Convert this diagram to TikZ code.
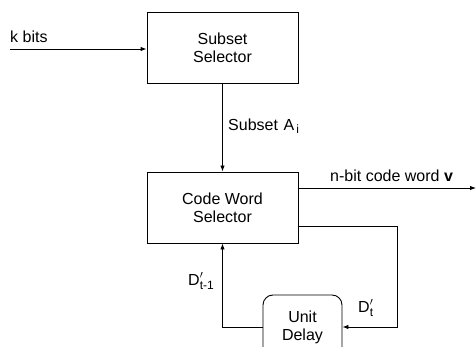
\documentclass[tikz,border=0pt]{standalone}
\usepackage{fontspec}
\setmainfont{Liberation Sans}
\usetikzlibrary{arrows.meta}
\newcommand{\dprime}[1]{D\ensuremath{{}^{\prime}_{\mbox{\fontsize{12}{12}\selectfont #1}}}}
\begin{document}
\begin{tikzpicture}[x=1pt,y=-1pt,
  txt/.style={font=\fontsize{16}{18}\selectfont},
  blk/.style={txt, draw, line width=0.9pt, minimum width=151pt, minimum height=71pt, align=center, inner sep=0pt},
  dly/.style={txt, draw, line width=0.9pt, rounded corners=10pt, minimum width=79pt, minimum height=64pt, align=center, inner sep=0pt},
  wire/.style={line width=0.9pt},
  arr/.style={wire, -{Latex[length=6pt,width=4.5pt]}},
  lbl/.style={txt, anchor=base west, inner sep=0pt}]
\useasboundingbox (0,0) rectangle (476,347);
\node[blk] (ss) at (222.5,47.5) {Subset\\Selector};
\node[blk] (cw) at (222.5,207.5) {Code Word\\Selector};
\node[dly] (ud) at (302.5,327) {Unit\\Delay};
\coordinate (kin) at (10,49);
\coordinate (vout) at (476,188);
\coordinate (fb) at (397,226);
\draw[arr] (kin) -- (kin -| ss.west);
\draw[arr] (ss.south) -- (cw.north);
\draw[arr] (cw.east |- vout) -- (vout);
\draw[arr] (cw.east |- fb) -- (fb) |- (ud.east);
\draw[arr] (ud.west) -| (cw.south);
\node[lbl] (lk) at (10,43) {k bits};
\node[lbl] (la) at (228,131) {Subset\hspace{0.35em}A\raisebox{-0.35ex}{\fontsize{12}{12}\selectfont\,i}};
\node[lbl] (lv) at (330,182) {n-bit code word \textbf{v}};
\node[lbl] (ld1) at (188,285) {\dprime{t-1}};
\node[lbl] (ld2) at (358,312) {\dprime{t}};
\end{tikzpicture}
\end{document}
